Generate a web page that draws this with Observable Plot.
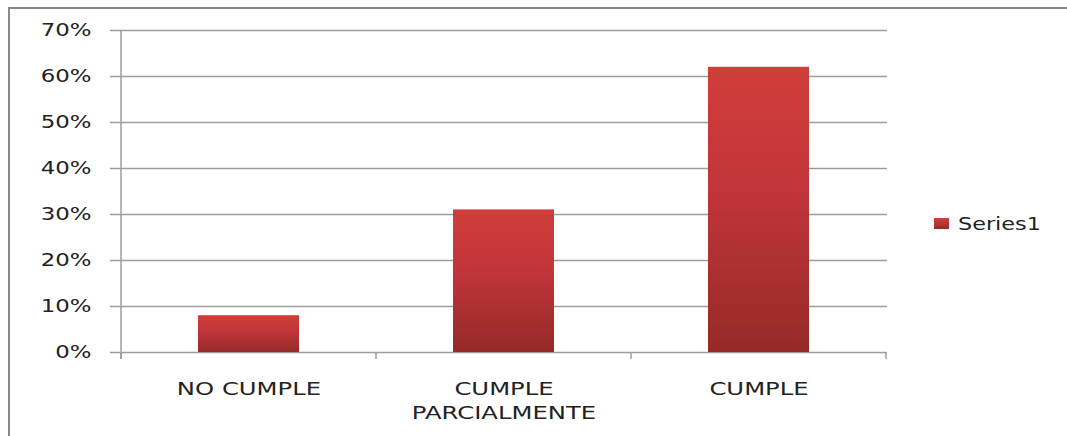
<!DOCTYPE html>
<html>
<head>
<meta charset="utf-8">
<script src="https://cdn.jsdelivr.net/npm/d3@7"></script>
<script src="https://cdn.jsdelivr.net/npm/@observablehq/plot@0.6"></script>
<style>
  html, body { margin: 0; padding: 0; background: #fff; }
  #wrap { position: relative; width: 1067px; height: 436px; overflow: hidden; }
  #frame { position: absolute; left: 8px; top: 7px; width: 1060px; height: 440px;
           border-top: 2px solid #8a8a8a; border-left: 2px solid #8a8a8a; box-sizing: border-box; }
  #legend { position: absolute; left: 934px; top: 213px; font-family: "DejaVu Sans", sans-serif;
            font-size: 18px; color: #222; display: flex; align-items: center; }
  #legend .sw { width: 15px; height: 11px; margin-right: 9px; }
  #legend span { display: inline-block; transform: scaleX(1.24); transform-origin: left center; }
  svg { position: absolute; left: 0; top: 0; }
</style>
</head>
<body>
<div id="wrap">
  <div id="frame"></div>
  <div id="legend"><div class="sw"></div><span></span></div>
</div>
<script>
const categories = ["NO CUMPLE", "CUMPLE\nPARCIALMENTE", "CUMPLE"];
const values = [0.08, 0.31, 0.62];
const yTicks = [0, 0.1, 0.2, 0.3, 0.4, 0.5, 0.6, 0.7];
const seriesName = "Series1";
const gradStops = [[0, "#d13e39"], [0.45, "#c0343a"], [1, "#952a27"]];

const data = categories.map((c, i) => ({cat: c, value: values[i]}));

const axisLines = (index, scales, vals, dims) => {
  const x = scales.x, y = scales.y;
  const step = x.step(), bw = x.bandwidth();
  const edges = categories.map(c => x(c) - (step - bw) / 2);
  edges.push(edges[edges.length - 1] + step);
  const g = d3.create("svg:g").attr("stroke", "#9c9c9c").attr("stroke-width", 1.5);
  const y0 = y(0);
  g.append("line").attr("x1", edges[0]).attr("x2", edges[0]).attr("y1", y(yTicks[yTicks.length - 1])).attr("y2", y0 + 7);
  edges.forEach(e => g.append("line").attr("x1", e).attr("x2", e).attr("y1", y0).attr("y2", y0 + 7));
  return g.node();
};

const chart = Plot.plot({
  width: 1067,
  height: 436,
  marginLeft: 120,
  marginRight: 180,
  marginTop: 30,
  marginBottom: 84,
  x: {domain: categories, paddingInner: 0.605, paddingOuter: 0.3025, label: null},
  y: {domain: [0, 0.7], ticks: yTicks, tickFormat: d3.format(".0%"), label: null},
  style: {fontFamily: "DejaVu Sans, sans-serif", fontSize: "18px", color: "#222", background: "transparent"},
  marks: [
    Plot.ruleY(yTicks, {y: d => d, stroke: "#9c9c9c", strokeWidth: 1.5}),
    Plot.axisY({ticks: yTicks, tickFormat: d3.format(".0%"), tickSize: 10, tickPadding: 19, stroke: "#9c9c9c", strokeWidth: 1.5, strokeOpacity: 1, fill: "#222", fontSize: 18, label: null}),
    Plot.barY(data, {x: "cat", y: "value", fill: "url(#barGrad)"}),
    axisLines,
    Plot.axisX({tickSize: 0, tickPadding: 26, lineHeight: 1.33, fill: "#222", fontSize: 18, label: null})
  ]
});

const svg = d3.select(chart);
const grad = svg.insert("defs", ":first-child").append("linearGradient")
  .attr("id", "barGrad").attr("x1", 0).attr("y1", 0).attr("x2", 0).attr("y2", 1);
gradStops.forEach(([o, c]) => grad.append("stop").attr("offset", o).attr("stop-color", c));

function stretch(sel, sx) {
  sel.each(function () {
    const t = this;
    const g = document.createElementNS("http://www.w3.org/2000/svg", "g");
    const tr = t.getAttribute("transform");
    if (tr) g.setAttribute("transform", tr);
    t.parentNode.insertBefore(g, t);
    g.appendChild(t);
    t.setAttribute("transform", `scale(${sx},1)`);
  });
}
stretch(svg.selectAll('g[aria-label="y-axis tick label"] text'), 1.27);
stretch(svg.selectAll('g[aria-label="x-axis tick label"] text'), 1.35);

document.getElementById("wrap").appendChild(chart);
document.querySelector("#legend .sw").style.background =
  "linear-gradient(" + gradStops.map(([o, c]) => c + " " + (o * 100) + "%").join(",") + ")";
document.querySelector("#legend span").textContent = seriesName;
</script>
</body>
</html>
